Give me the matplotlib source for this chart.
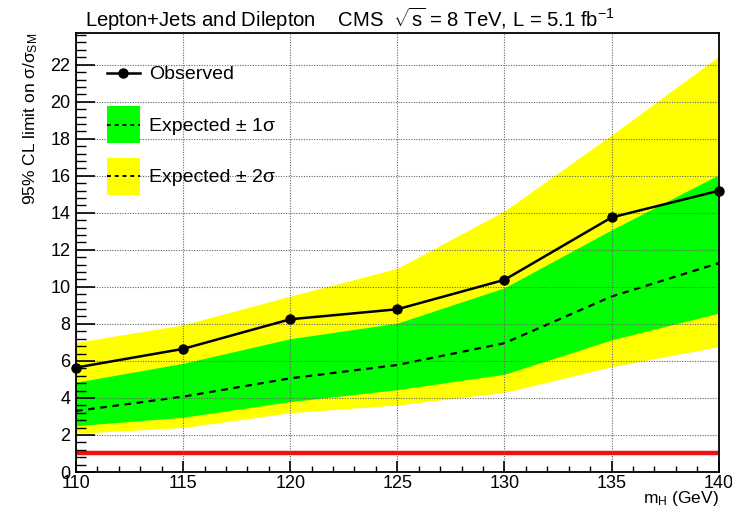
import matplotlib
matplotlib.use("Agg")
import matplotlib.pyplot as plt
from matplotlib.lines import Line2D
from matplotlib.patches import Patch
from matplotlib.legend_handler import HandlerLine2D
from matplotlib.ticker import MultipleLocator

plt.rcParams['font.family'] = ['Liberation Sans', 'DejaVu Sans']
plt.rcParams['mathtext.fontset'] = 'custom'
plt.rcParams['mathtext.rm'] = 'Liberation Sans'
plt.rcParams['mathtext.it'] = 'Liberation Sans:italic'

# Higgs mass points (GeV) and limits
mass = [110, 115, 120, 125, 130, 135, 140]
observed = [5.64, 6.65, 8.25, 8.79, 10.38, 13.75, 15.19]
expected = [3.3, 4.07, 5.06, 5.78, 6.96, 9.48, 11.28]
one_sig_lo = [2.5, 2.96, 3.8, 4.45, 5.28, 7.14, 8.58]
one_sig_hi = [4.85, 5.87, 7.2, 8.04, 9.95, 13.08, 16.05]
two_sig_lo = [2.09, 2.4, 3.2, 3.62, 4.3, 5.69, 6.77]
two_sig_hi = [7.0, 7.95, 9.5, 11.0, 14.1, 18.2, 22.45]


class CenteredLine(HandlerLine2D):
    # put the line in the middle of the (tall) legend box
    def create_artists(self, legend, orig_handle, xdescent, ydescent, width, height, fontsize, trans):
        return super().create_artists(legend, orig_handle, xdescent, ydescent, width,
                                      height - ydescent, fontsize, trans)


fig = plt.figure(figsize=(7.32, 5.11), dpi=100)
ax = fig.add_axes([0.1038, 0.0763, 0.878, 0.8587])

ax.fill_between(mass, two_sig_lo, two_sig_hi, color="#ffff00", lw=0)
ax.fill_between(mass, one_sig_lo, one_sig_hi, color="#00ff00", lw=0)
ax.plot(mass, expected, color="black", lw=1.6, ls=(0, (3, 2.5)))
ax.plot(mass, observed, color="black", lw=1.8, marker="o", ms=6.5, clip_on=False, zorder=5)
ax.axhline(1, color="#f01010", lw=3.2)

ax.set_xlim(110, 140)
ax.set_ylim(0, 23.7)
ax.xaxis.set_major_locator(MultipleLocator(5))
ax.xaxis.set_minor_locator(MultipleLocator(1))
ax.yaxis.set_major_locator(MultipleLocator(2))
ax.yaxis.set_minor_locator(MultipleLocator(0.4))
ax.tick_params(axis="both", which="both", direction="in", labelsize=13, top=False, right=False)
ax.tick_params(axis="y", which="major", length=14, width=1.2, pad=4)
ax.tick_params(axis="y", which="minor", length=7, width=1.0)
ax.tick_params(axis="x", which="major", length=8, width=1.2, pad=2)
ax.tick_params(axis="x", which="minor", length=4, width=1.0)

ax.set_axisbelow(False)
ax.grid(True, which="major", color="#666666", lw=0.8, ls=(0, (1, 1.3)))
for s in ax.spines.values():
    s.set_linewidth(1.3)
    s.set_zorder(6)

ax.set_xlabel("m$_{\\mathrm{H}}$ (GeV)", fontsize=12.5, ha="right", va="center")
ax.xaxis.set_label_coords(1.0, -0.06)
ax.set_ylabel("95% CL limit on σ/σ$_{\\mathrm{SM}}$", fontsize=12.5, ha="right", va="center")
ax.yaxis.set_label_coords(-0.071, 1.0)

fig.text(0.116, 0.962, r"Lepton+Jets and Dilepton    CMS  $\sqrt{\mathrm{s}}$ = 8 TeV, L = 5.1 fb$^{-1}$",
         fontsize=14.6, va="center", ha="left")

handles = [
    Line2D([], [], color="black", lw=1.8, marker="o", ms=6.5),
    (Patch(color="#00ff00", lw=0), Line2D([], [], color="black", lw=1.4, ls=(0, (2, 2)))),
    (Patch(color="#ffff00", lw=0), Line2D([], [], color="black", lw=1.4, ls=(0, (2, 2)))),
]
labels = ["Observed", "Expected ± 1σ", "Expected ± 2σ"]
ax.legend(handles, labels, loc="upper left", bbox_to_anchor=(0.036, 0.969), frameon=False,
          fontsize=14, handlelength=1.7, handleheight=2.55, handletextpad=0.45, labelspacing=0.75,
          borderaxespad=0, handler_map={Line2D: CenteredLine()})

fig.savefig("out.png", dpi=100)
